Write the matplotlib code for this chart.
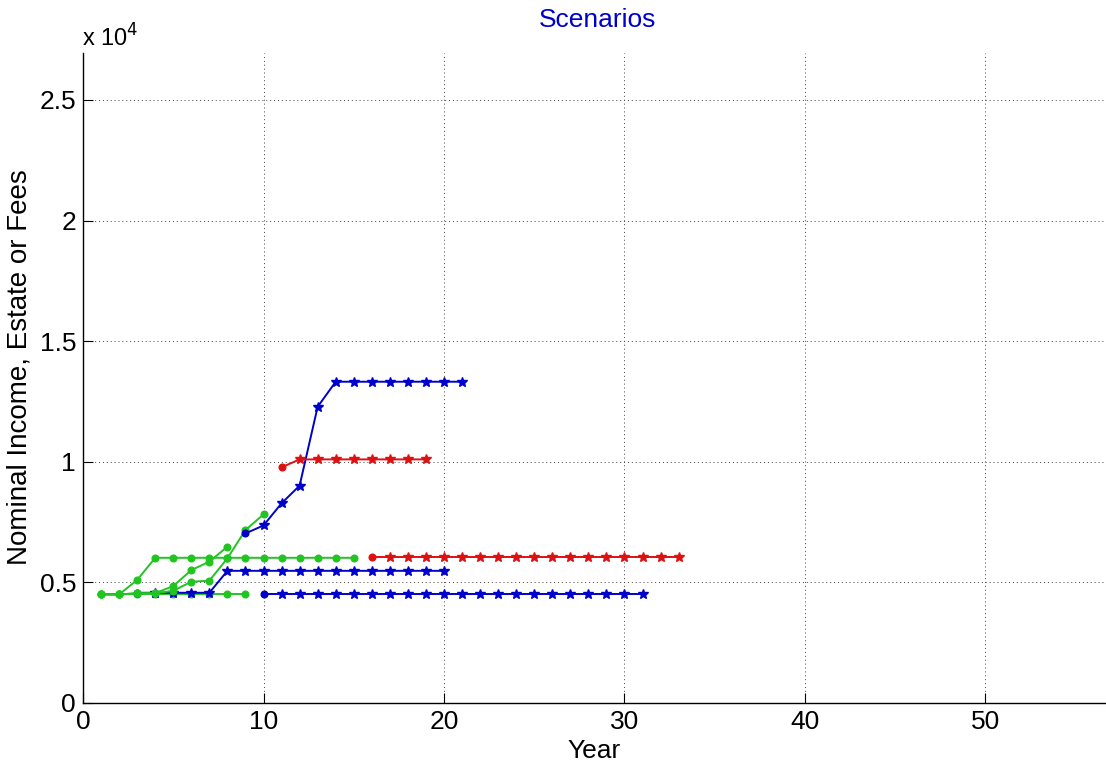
import matplotlib.pyplot as plt
import numpy as np

plt.rcParams['font.family'] = ['Liberation Sans', 'DejaVu Sans']

# 各情景的年份与数值
green_flat_x = list(range(1, 10))
green_flat_y = [4500] * 9

green_a_x = list(range(1, 16))
green_a_y = [4500, 4500, 5100] + [6020] * 12

green_c_x = list(range(1, 9))
green_c_y = [4500, 4500, 4550, 4550, 4850, 5510, 5860, 6480]

green_d_x = list(range(1, 11))
green_d_y = [4500, 4500, 4550, 4550, 4650, 5030, 5070, 6000, 7170, 7820]

blue_b2_x = list(range(3, 21))
blue_b2_y = [4570] * 5 + [5480] * 13

blue_b3_x = list(range(9, 22))
blue_b3_y = [7030, 7360, 8280, 9010, 12280, 13320, 13320, 13320, 13320,
             13320, 13320, 13320, 13320]

blue_b1_x = list(range(10, 32))
blue_b1_y = [4500] * 22

red_r1_x = list(range(11, 20))
red_r1_y = [9770] + [10100] * 8

red_r2_x = list(range(16, 34))
red_r2_y = [6040] * 18

ytick_vals = [0, 5000, 10000, 15000, 20000, 25000]
ytick_labels = ['0', '0.5', '1', '1.5', '2', '2.5']
xtick_vals = [0, 10, 20, 30, 40, 50]

green = '#22c422'
blue = '#0000cc'
red = '#dd1111'

fig = plt.figure(figsize=(11.06, 7.66), dpi=100)
ax = fig.add_axes([83 / 1106, 63 / 766, 1023 / 1106, 650 / 766])

def draw_dots(x, y, c):
    ax.plot(x, y, '-', color=c, lw=1.4, marker='o', ms=4.8, mec=c, mfc=c)

def draw_stars(x, y, c):
    ax.plot(x, y, '-', color=c, lw=1.4)
    ax.plot(x[:1], y[:1], 'o', color=c, ms=4.8)
    ax.plot(x[1:], y[1:], '*', color=c, ms=7, mec=c, mfc=c)

# 绿色情景
draw_dots(green_flat_x, green_flat_y, green)
draw_dots(green_a_x, green_a_y, green)
# 蓝色情景
draw_stars(blue_b2_x, blue_b2_y, blue)
draw_dots(green_c_x, green_c_y, green)
draw_dots(green_d_x, green_d_y, green)
draw_stars(blue_b3_x, blue_b3_y, blue)
draw_stars(blue_b1_x, blue_b1_y, blue)
# 红色情景
draw_stars(red_r1_x, red_r1_y, red)
draw_stars(red_r2_x, red_r2_y, red)

ax.set_xlim(0, 1023 / 18.05)
ax.set_ylim(0, 650 / 24.12 * 1000)
ax.set_xticks(xtick_vals)
ax.set_yticks(ytick_vals)
ax.set_yticklabels(ytick_labels)
ax.tick_params(direction='in', length=7, width=0.8, labelsize=19)
ax.tick_params(axis='x', pad=5)
ax.tick_params(axis='y', pad=5)
ax.grid(True, linestyle=(0, (1, 3)), color='#444444', lw=0.7)
ax.spines['top'].set_visible(False)
ax.spines['right'].set_visible(False)
for s in ['left', 'bottom']:
    ax.spines[s].set_linewidth(1.0)

ax.set_xlabel('Year', fontsize=19, labelpad=4)
ax.set_ylabel('Nominal Income, Estate or Fees', fontsize=20)
ax.yaxis.set_label_coords(-50 / 1023, 336 / 650)

fig.text(598 / 1106, 1 - 20 / 766, 'Scenarios', color=blue, fontsize=19,
         ha='center', va='center')
fig.text(82 / 1106, 1 - 38 / 766, r'x 10$^{4}$', fontsize=17,
         ha='left', va='center')

fig.savefig('out.png', dpi=100)
